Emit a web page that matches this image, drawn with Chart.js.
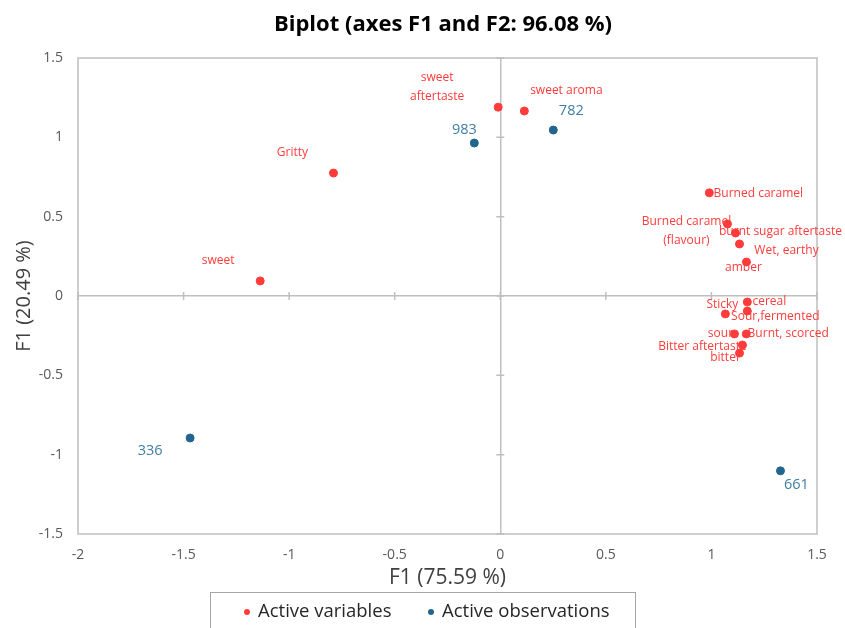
<!DOCTYPE html>
<html>
<head>
<meta charset="utf-8">
<title>Biplot</title>
<script src="https://cdn.jsdelivr.net/npm/chart.js@4.4.1/dist/chart.umd.min.js"></script>
<style>
  html, body { margin: 0; padding: 0; background: #fff; }
</style>
</head>
<body>
<canvas id="biplot" width="845" height="628"></canvas>
<script>
// Active variables (red)
const varNames = ["sweet\naftertaste", "sweet aroma", "Gritty", "sweet", "Burned caramel",
    "Burned caramel\n(flavour)", "burnt sugar aftertaste", "Wet, earthy", "amber", "cereal",
    "Sour,fermented", "Sticky", "sour", "Burnt, scorced", "Bitter aftertaste", "bitter"];
const varX = [-0.01, 0.114, -0.79, -1.137, 0.99, 1.076, 1.114, 1.133, 1.166, 1.17,
    1.17, 1.066, 1.109, 1.165, 1.147, 1.133];
const varY = [1.19, 1.166, 0.775, 0.095, 0.65, 0.454, 0.397, 0.328, 0.214, -0.038,
    -0.095, -0.113, -0.239, -0.239, -0.309, -0.36];

// Active observations (blue)
const obsNames = ["983", "782", "336", "661"];
const obsX = [-0.123, 0.251, -1.469, 1.327];
const obsY = [0.964, 1.046, -0.895, -1.102];

// label offsets from the point, in px (style only)
const varLabelOffsets = [[-61, -20], [42, -20], [-41, -20], [-42, -20], [49, 1],
    [-41, 7], [45, -1], [47, 7], [-3, 6], [22, 0],
    [28, 6], [-3, -9], [-14, 0], [42, 0], [-40, 2], [-14, 4]];
const obsLabelOffsets = [[-10, -13], [18, -19], [-40, 13], [16, 14]];

const chartTitle = "Biplot (axes F1 and F2: 96.08 %)";

const RED = "#ff3b3b";
const BLUE = "#22668f";
const BLUE_TEXT = "#3f7ea3";
const AXIS_GRAY = "#bfbfbf";

Chart.defaults.font.family = "'Open Sans', sans-serif";

const pointLabels = {
    id: "pointLabels",
    afterDatasetsDraw(chart) {
        const ctx = chart.ctx;
        chart.data.datasets.forEach((ds, i) => {
            const meta = chart.getDatasetMeta(i);
            ctx.save();
            ctx.fillStyle = ds.labelColor;
            ctx.font = ds.labelFont;
            ctx.textAlign = "center";
            ctx.textBaseline = "middle";
            meta.data.forEach((pt, j) => {
                const lines = ds.names[j].split("\n");
                const off = ds.offsets[j];
                const y0 = pt.y + off[1] - (lines.length - 1) * ds.lineHeight / 2;
                lines.forEach((line, k) => ctx.fillText(line, pt.x + off[0], y0 + k * ds.lineHeight));
            });
            ctx.restore();
        });
    }
};

// plot frame + small tick marks across the zero axes
const frame = {
    id: "frame",
    beforeDatasetsDraw(chart) {
        const { ctx, chartArea: a, scales: { x, y } } = chart;
        ctx.save();
        ctx.strokeStyle = AXIS_GRAY;
        ctx.lineWidth = 1.5;
        ctx.strokeRect(a.left, a.top, a.right - a.left, a.bottom - a.top);
        const x0 = x.getPixelForValue(0);
        const y0 = y.getPixelForValue(0);
        ctx.beginPath();
        x.ticks.forEach(t => {
            const px = x.getPixelForValue(t.value);
            ctx.moveTo(px, y0 - 4);
            ctx.lineTo(px, y0 + 4);
        });
        y.ticks.forEach(t => {
            const py = y.getPixelForValue(t.value);
            ctx.moveTo(x0 - 4, py);
            ctx.lineTo(x0 + 4, py);
        });
        ctx.stroke();
        ctx.restore();
    }
};

// title (offset to the right like the original) and an Excel-like boxed legend
const decorations = {
    id: "decorations",
    afterDraw(chart) {
        const ctx = chart.ctx;
        ctx.save();
        ctx.fillStyle = "#000";
        ctx.font = "bold 22px 'Open Sans', sans-serif";
        ctx.textAlign = "center";
        ctx.textBaseline = "middle";
        ctx.fillText(chartTitle, 443, 25);

        ctx.textAlign = "left";
        ctx.strokeStyle = "#a6a6a6";
        ctx.lineWidth = 1;
        ctx.strokeRect(210.5, 592.5, 425, 50);
        ctx.font = "18.5px 'Open Sans', sans-serif";
        const items = [
            { text: chart.data.datasets[0].label, color: RED, x: 247 },
            { text: chart.data.datasets[1].label, color: BLUE, x: 431 }
        ];
        items.forEach(it => {
            ctx.fillStyle = it.color;
            ctx.beginPath();
            ctx.arc(it.x, 612, 3, 0, Math.PI * 2);
            ctx.fill();
            ctx.fillStyle = "#262626";
            ctx.fillText(it.text, it.x + 11, 612);
        });
        ctx.restore();
    }
};

const tickFont = { size: 14 };
const zeroGrid = {
    drawTicks: false,
    lineWidth: 1.5,
    color: c => (c.tick && c.tick.value === 0 ? AXIS_GRAY : "transparent")
};

new Chart(document.getElementById("biplot"), {
    type: "scatter",
    data: {
        datasets: [{
            label: "Active variables",
            data: varX.map((v, i) => ({ x: v, y: varY[i] })),
            names: varNames,
            offsets: varLabelOffsets,
            labelColor: RED,
            labelFont: "12px 'Open Sans', sans-serif",
            lineHeight: 19,
            backgroundColor: RED,
            borderColor: RED,
            pointRadius: 4,
            pointHoverRadius: 4
        }, {
            label: "Active observations",
            data: obsX.map((v, i) => ({ x: v, y: obsY[i] })),
            names: obsNames,
            offsets: obsLabelOffsets,
            labelColor: BLUE_TEXT,
            labelFont: "14.5px 'Open Sans', sans-serif",
            lineHeight: 17,
            backgroundColor: BLUE,
            borderColor: BLUE,
            pointRadius: 4,
            pointHoverRadius: 4
        }]
    },
    options: {
        responsive: false,
        animation: false,
        layout: { padding: { left: 0, right: 28, top: 58, bottom: 0 } },
        plugins: {
            legend: { display: false },
            tooltip: { enabled: false },
            title: { display: false }
        },
        scales: {
            x: {
                type: "linear",
                min: -2,
                max: 1.5,
                afterFit: s => { s.height = 94; },
                ticks: { stepSize: 0.5, font: tickFont, color: "#595959", padding: 13,
                    callback: v => String(v) },
                grid: zeroGrid,
                border: { display: false },
                title: {
                    display: true,
                    text: "F1 (75.59 %)",
                    color: "#404040",
                    font: { size: 21 },
                    padding: { top: 0, bottom: 37.4 }
                }
            },
            y: {
                type: "linear",
                min: -1.5,
                max: 1.5,
                afterFit: s => { s.width = 78; },
                ticks: { stepSize: 0.5, font: tickFont, color: "#595959", padding: 15,
                    callback: v => String(v) },
                grid: zeroGrid,
                border: { display: false },
                title: {
                    display: true,
                    text: "F1 (20.49 %)",
                    color: "#404040",
                    font: { size: 20 },
                    padding: { top: 12, bottom: 0 }
                }
            }
        }
    },
    plugins: [frame, pointLabels, decorations]
});
</script>
</body>
</html>
